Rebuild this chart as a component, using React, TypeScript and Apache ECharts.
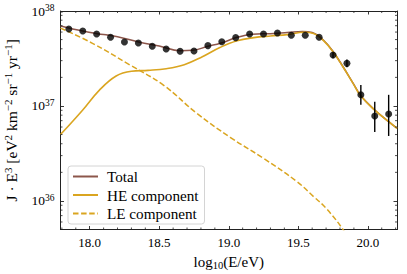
import React, { useEffect, useRef } from "react";
import * as echarts from "echarts";

// ---- data (J·E^3 values in units of 1e37) ----
const pointsLogE = [17.85, 17.95, 18.05, 18.15, 18.25, 18.35, 18.45, 18.55, 18.65, 18.75, 18.85, 18.95, 19.05, 19.15, 19.25, 19.35, 19.45, 19.55, 19.65, 19.75, 19.85, 19.95, 20.05, 20.15];
const pointsJ = [6.47, 6.15, 5.73, 5.28, 4.72, 4.6, 4.25, 3.98, 3.77, 3.79, 4.32, 4.75, 5.24, 5.73, 5.73, 5.86, 5.55, 5.55, 5.28, 3.44, 2.81, 1.31, 0.785, 0.824];

const errLogE = [19.75, 19.85, 19.95, 20.05, 20.15];
const errLo = [3.18, 2.55, 1.03, 0.532, 0.483];
const errHi = [3.68, 3.08, 1.66, 1.11, 1.31];

const totalLogE = [17.79, 17.95, 18.1, 18.2, 18.36, 18.5, 18.65, 18.74, 18.85, 18.94, 19.06, 19.17, 19.3, 19.42, 19.53, 19.6, 19.68, 19.75, 19.82, 19.895, 19.95, 20.05, 20.15, 20.21];
const totalJ = [6.95, 6.15, 5.65, 5.35, 4.69, 4.29, 3.82, 3.85, 4.25, 4.57, 5.28, 5.69, 5.77, 5.92, 6.1, 5.95, 4.95, 3.75, 2.62, 1.73, 1.28, 0.908, 0.684, 0.582];

const heLogE = [17.79, 17.95, 18.07, 18.19, 18.3, 18.42, 18.55, 18.68, 18.81, 18.94, 19.06, 19.18, 19.3, 19.42, 19.54, 19.61, 19.68, 19.75, 19.82, 19.895, 19.95, 20.05, 20.15, 20.21];
const heJ = [0.5, 0.908, 1.47, 2.07, 2.32, 2.37, 2.47, 2.72, 3.3, 4.15, 4.86, 5.24, 5.46, 5.64, 5.97, 5.8, 4.9, 3.72, 2.6, 1.72, 1.27, 0.905, 0.682, 0.58];

const leLogE = [17.79, 18.02, 18.29, 18.53, 18.77, 19.01, 19.25, 19.49, 19.61, 19.7, 19.82, 19.9];
const leJ = [6.61, 4.57, 2.7, 1.66, 0.837, 0.468, 0.281, 0.16, 0.111, 0.0837, 0.0504, 0.0316];

const UNIT = 1e37;
const X_MIN = 17.79;
const X_MAX = 20.21;
const Y_MIN = 5.0e35;
const Y_MAX = 1e38;

const minorTicksX = [17.8, 17.9, 18.1, 18.2, 18.3, 18.4, 18.6, 18.7, 18.8, 18.9, 19.1, 19.2, 19.3, 19.4, 19.6, 19.7, 19.8, 19.9, 20.1, 20.2];
const minorTicksY = [6e35, 7e35, 8e35, 9e35, 2e36, 3e36, 4e36, 5e36, 6e36, 7e36, 8e36, 9e36, 2e37, 3e37, 4e37, 5e37, 6e37, 7e37, 8e37, 9e37];

const FONT = "Liberation Serif";
const BROWN = "#8c564b";
const GOLD = "#daa520";
const AX = "#222";

export default function App() {
  const ref = useRef<HTMLDivElement>(null);
  useEffect(() => {
    document.body.style.margin = "0";
    const chart = echarts.init(ref.current!, null, { renderer: "svg" });
    const pair = (xs: number[], ys: number[]) => xs.map((x, i) => [x, ys[i] * UNIT]);

    const tickData: number[][] = [];
    minorTicksX.forEach((x) => {
      tickData.push([x, Y_MIN, 0]);
      tickData.push([x, Y_MAX, 1]);
    });
    minorTicksY.forEach((y) => {
      tickData.push([X_MIN, y, 2]);
      tickData.push([X_MAX, y, 3]);
    });

    const xCommon = {
      type: "value",
      min: X_MIN,
      max: X_MAX,
      splitLine: { show: false },
      axisLine: { show: true, lineStyle: { color: AX, width: 1 } },
      axisTick: { show: true, inside: true, length: 3.5, lineStyle: { color: AX, width: 0.9 } },
    };
    const yCommon = {
      type: "log",
      logBase: 10,
      min: Y_MIN,
      max: Y_MAX,
      splitLine: { show: false },
      axisLine: { show: true, lineStyle: { color: AX, width: 1 } },
      axisTick: { show: true, inside: true, length: 3.5, lineStyle: { color: AX, width: 0.9 } },
    };

    chart.setOption({
      animation: false,
      textStyle: { fontFamily: FONT },
      grid: { left: 60.5, right: 10, top: 11, bottom: 44.5, outerBoundsMode: "none" },
      xAxis: [
        {
          ...xCommon,
          position: "bottom",
          name: "log{sub|10}(E/eV)",
          nameLocation: "middle",
          nameGap: 7,
          nameTextStyle: {
            fontFamily: FONT, fontSize: 15, color: "#000", lineHeight: 18,
            rich: { sub: { fontFamily: FONT, fontSize: 10.5, lineHeight: 10, verticalAlign: "bottom", color: "#000" } },
          },
          axisLabel: {
            margin: 6,
            color: "#000",
            fontFamily: FONT,
            fontSize: 13,
            formatter: (v: number) => (Math.abs(v * 2 - Math.round(v * 2)) < 1e-6 ? v.toFixed(1) : ""),
          },
        },
        { ...xCommon, position: "top", axisLabel: { show: false } },
      ],
      yAxis: [
        {
          ...yCommon,
          position: "left",
          name: "J · E{s|3} [eV{s|2} km{s|−2} sr{s|−1} yr{s|−1}]",
          nameLocation: "middle",
          nameGap: 40,
          nameRotate: 90,
          nameTextStyle: {
            fontFamily: FONT, fontSize: 15.5, color: "#000", lineHeight: 18,
            rich: { s: { fontFamily: FONT, fontSize: 11, lineHeight: 10, verticalAlign: "top", color: "#000" } },
          },
          axisLabel: {
            margin: 6,
            color: "#000",
            fontFamily: FONT,
            formatter: (v: number) => {
              const l = Math.log10(v);
              const e = Math.round(l);
              if (Math.abs(l - e) > 1e-6) return "";
              return `{b|10}{s|${e}}`;
            },
            rich: {
              b: { fontFamily: FONT, fontSize: 13.5, lineHeight: 16, color: "#000" },
              s: { fontFamily: FONT, fontSize: 9.5, lineHeight: 9, verticalAlign: "top", color: "#000" },
            },
          },
        },
        { ...yCommon, position: "right", axisLabel: { show: false } },
      ],
      legend: {
        orient: "vertical",
        left: 68,
        top: 166,
        padding: [3, 6, 3, 4],
        itemGap: 3.5,
        itemWidth: 25,
        itemHeight: 14,
        backgroundColor: "#fff",
        borderColor: "#d4d4d4",
        borderWidth: 1,
        borderRadius: 3,
        itemStyle: { opacity: 0, borderWidth: 0 },
        textStyle: { fontFamily: FONT, fontSize: 15.2, color: "#000", lineHeight: 14, padding: [0, 0, 0, 4] },
        data: ["Total", "HE component", "LE component"],
      },
      series: [
        {
          name: "Total",
          type: "line",
          data: pair(totalLogE, totalJ),
          symbol: "none",
          smooth: 0.4,
          lineStyle: { color: BROWN, width: 1.5 },
          itemStyle: { color: "transparent" },
          z: 2,
        },
        {
          name: "HE component",
          type: "line",
          data: pair(heLogE, heJ),
          symbol: "none",
          smooth: 0.4,
          lineStyle: { color: GOLD, width: 1.6 },
          itemStyle: { color: "transparent" },
          z: 3,
        },
        {
          name: "LE component",
          type: "line",
          data: pair(leLogE, leJ),
          symbol: "none",
          smooth: 0.4,
          lineStyle: { color: GOLD, width: 1.5, type: [5.5, 2.6] },
          itemStyle: { color: "transparent" },
          z: 3,
        },
        {
          name: "errors",
          type: "custom",
          data: errLogE.map((x, i) => [x, errLo[i] * UNIT, errHi[i] * UNIT]),
          renderItem: (params: any, api: any) => {
            const a = api.coord([api.value(0), api.value(1)]);
            const b = api.coord([api.value(0), api.value(2)]);
            return {
              type: "line",
              shape: { x1: a[0], y1: a[1], x2: b[0], y2: b[1] },
              style: { stroke: "#000", lineWidth: 1.4 },
            };
          },
          z: 4,
        },
        {
          name: "data",
          type: "scatter",
          data: pair(pointsLogE, pointsJ),
          symbol: "circle",
          symbolSize: 7,
          itemStyle: { color: "#000" },
          z: 5,
        },
        {
          name: "minorTicks",
          type: "custom",
          clip: false,
          silent: true,
          data: tickData,
          renderItem: (params: any, api: any) => {
            const p = api.coord([api.value(0), api.value(1)]);
            const side = api.value(2);
            const L = 2;
            let dx = 0, dy = 0;
            if (side === 0) dy = -L;
            else if (side === 1) dy = L;
            else if (side === 2) dx = L;
            else dx = -L;
            return {
              type: "line",
              shape: { x1: p[0], y1: p[1], x2: p[0] + dx, y2: p[1] + dy },
              style: { stroke: AX, lineWidth: 0.8 },
            };
          },
          z: 6,
        },
      ],
    });
    return () => chart.dispose();
  }, []);
  return <div ref={ref} style={{ width: 407, height: 274 }} />;
}
